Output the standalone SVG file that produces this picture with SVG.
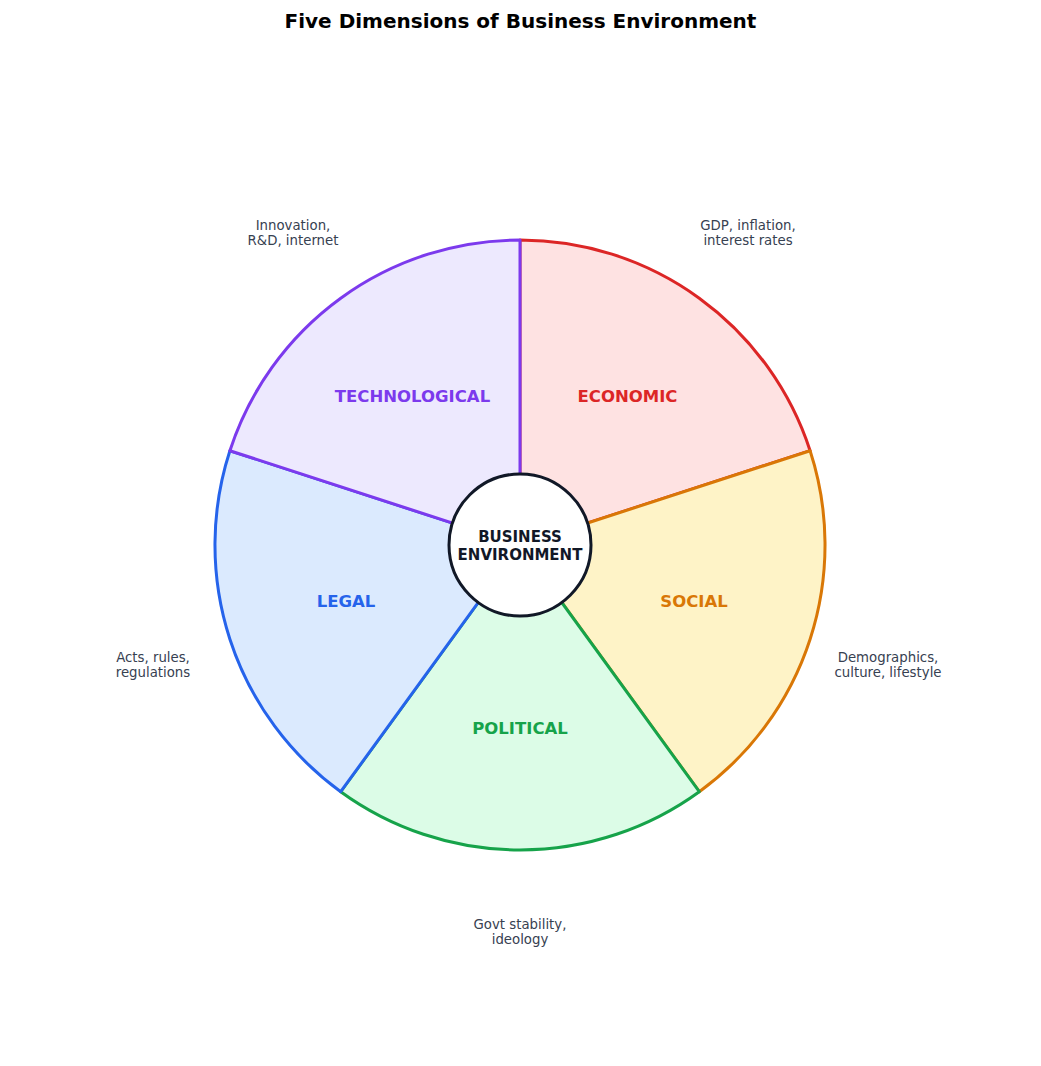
<svg xmlns="http://www.w3.org/2000/svg" width="1041" height="1066" viewBox="0 0 1041 1066">
<style>
.title{font-family:"DejaVu Sans",sans-serif;font-weight:bold;font-size:20px;fill:#000;text-anchor:middle}
.seg{stroke-width:3;stroke-linejoin:round}
.lbl{font-family:"DejaVu Sans",sans-serif;font-weight:bold;font-size:16.5px;text-anchor:middle;dominant-baseline:central}
.desc{font-family:"DejaVu Sans",sans-serif;font-size:13.3px;fill:#374151;text-anchor:middle}
.ctr{font-family:"DejaVu Sans",sans-serif;font-weight:bold;font-size:15px;fill:#111827;text-anchor:middle}
</style>
<rect width="1041" height="1066" fill="#fff"/>
<text class="title" x="520.5" y="28">Five Dimensions of Business Environment</text>
<g id="connectors"></g>
<g id="economic">
<path class="seg" d="M520,545 L520,240 A305,305 0 0 1 810.1,450.7 Z" fill="#fee2e2" stroke="#dc2626"/>
<text class="lbl" x="627.5" y="396" fill="#dc2626">ECONOMIC</text>
<text class="desc" x="748" y="230">GDP, inflation,</text>
<text class="desc" x="748" y="245">interest rates</text>
</g>
<g id="social">
<path class="seg" d="M520,545 L810.1,450.7 A305,305 0 0 1 699.3,791.7 Z" fill="#fef3c7" stroke="#d97706"/>
<text class="lbl" x="694" y="601" fill="#d97706">SOCIAL</text>
<text class="desc" x="888" y="662">Demographics,</text>
<text class="desc" x="888" y="677">culture, lifestyle</text>
</g>
<g id="political">
<path class="seg" d="M520,545 L699.3,791.7 A305,305 0 0 1 340.7,791.7 Z" fill="#dcfce7" stroke="#16a34a"/>
<text class="lbl" x="520" y="728" fill="#16a34a">POLITICAL</text>
<text class="desc" x="520" y="929">Govt stability,</text>
<text class="desc" x="520" y="944">ideology</text>
</g>
<g id="legal">
<path class="seg" d="M520,545 L340.7,791.7 A305,305 0 0 1 229.9,450.7 Z" fill="#dbeafe" stroke="#2563eb"/>
<text class="lbl" x="346" y="601" fill="#2563eb">LEGAL</text>
<text class="desc" x="153" y="662">Acts, rules,</text>
<text class="desc" x="153" y="677">regulations</text>
</g>
<g id="technological">
<path class="seg" d="M520,545 L229.9,450.7 A305,305 0 0 1 520,240 Z" fill="#ede9fe" stroke="#7c3aed"/>
<text class="lbl" x="412.5" y="396" fill="#7c3aed">TECHNOLOGICAL</text>
<text class="desc" x="293" y="230">Innovation,</text>
<text class="desc" x="293" y="245">R&amp;D, internet</text>
</g>
<g id="center">
<circle cx="520" cy="545" r="71" fill="#fff" stroke="#111827" stroke-width="3"/>
<text class="ctr" x="520" y="542">BUSINESS</text>
<text class="ctr" x="520" y="560">ENVIRONMENT</text>
</g>
</svg>
